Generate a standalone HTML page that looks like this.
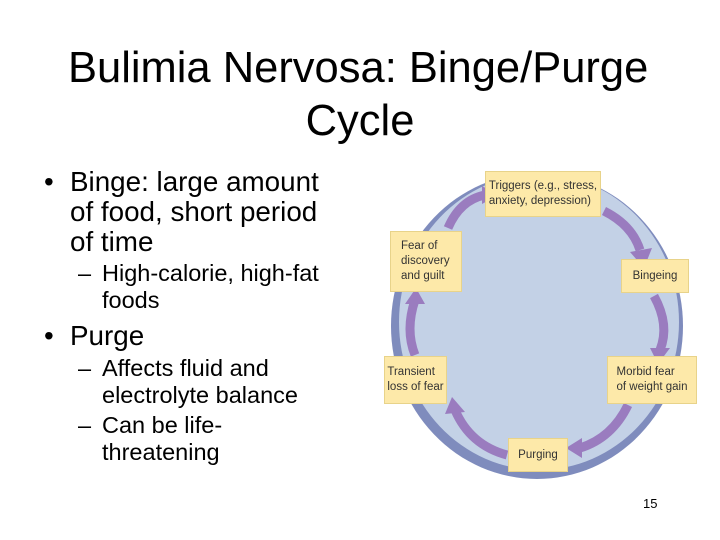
<!DOCTYPE html>
<html><head><meta charset="utf-8"><style>
body{margin:0;width:720px;height:540px;background:#fff;position:relative;overflow:hidden;font-family:"Liberation Sans",sans-serif;color:#000}
.t{position:absolute;white-space:nowrap;line-height:1}
.m{font-size:27.8px}
.s{font-size:23.5px}
.b{position:absolute;background:#fde9a9;border:1px solid #e8d38a;font-size:11.5px;color:#333;line-height:15px;box-sizing:border-box;display:flex;align-items:center;justify-content:center;text-align:left}
</style></head><body>
<div class="t" style="left:68px;top:47px;font-size:43.5px">Bulimia Nervosa: Binge/Purge</div>
<div class="t" style="left:0;width:720px;text-align:center;top:100px;font-size:43.5px">Cycle</div>

<div class="t m" style="left:44px;top:168px">•</div>
<div class="t m" style="left:70px;top:168px">Binge: large amount</div>
<div class="t m" style="left:70px;top:198px">of food, short period</div>
<div class="t m" style="left:70px;top:228px">of time</div>
<div class="t s" style="left:78px;top:262px">–</div>
<div class="t s" style="left:102px;top:262px">High-calorie, high-fat</div>
<div class="t s" style="left:102px;top:289px">foods</div>
<div class="t m" style="left:44px;top:322px">•</div>
<div class="t m" style="left:70px;top:322px">Purge</div>
<div class="t s" style="left:78px;top:357px">–</div>
<div class="t s" style="left:102px;top:357px">Affects fluid and</div>
<div class="t s" style="left:102px;top:384px">electrolyte balance</div>
<div class="t s" style="left:78px;top:414px">–</div>
<div class="t s" style="left:102px;top:414px">Can be life-</div>
<div class="t s" style="left:102px;top:441px">threatening</div>

<svg style="position:absolute;left:0;top:0" width="720" height="540">
<ellipse cx="537" cy="326" rx="146" ry="153" fill="#7f8cbd"/>
<ellipse cx="539" cy="322" rx="140" ry="148" fill="#c3d1e6"/>
<g fill="none" stroke="#9a7cbf" stroke-width="9">
<path d="M604 211 Q632 225 640 250"/>
<path d="M654 296 Q670 325 660 350"/>
<path d="M628 405 Q612 438 580 448"/>
<path d="M507 455 Q470 445 455 410"/>
<path d="M415 355 Q405 330 415 300"/>
<path d="M448 228 Q460 200 485 195"/>
</g>
<g fill="#9a7cbf">
<polygon points="630,252 652,248 644,268"/>
<polygon points="650,348 670,348 658,364"/>
<polygon points="582,438 582,458 566,448"/>
<polygon points="445,414 465,412 452,397"/>
<polygon points="405,304 425,304 416,288"/>
<polygon points="482,186 482,204 498,195"/>
</g>
</svg>
<div class="b" style="left:485px;top:171px;width:116px;height:46px">Triggers (e.g., stress,<br>anxiety, depression)</div>
<div class="b" style="left:390px;top:231px;width:72px;height:61px;justify-content:flex-start;padding-left:10px">Fear of<br>discovery<br>and guilt</div>
<div class="b" style="left:621px;top:259px;width:68px;height:34px">Bingeing</div>
<div class="b" style="left:384px;top:356px;width:63px;height:48px">Transient<br>loss of fear</div>
<div class="b" style="left:607px;top:356px;width:90px;height:48px">Morbid fear<br>of weight gain</div>
<div class="b" style="left:508px;top:438px;width:60px;height:34px">Purging</div>
<div class="t" style="left:643px;top:497px;font-size:13px">15</div>
</body></html>
